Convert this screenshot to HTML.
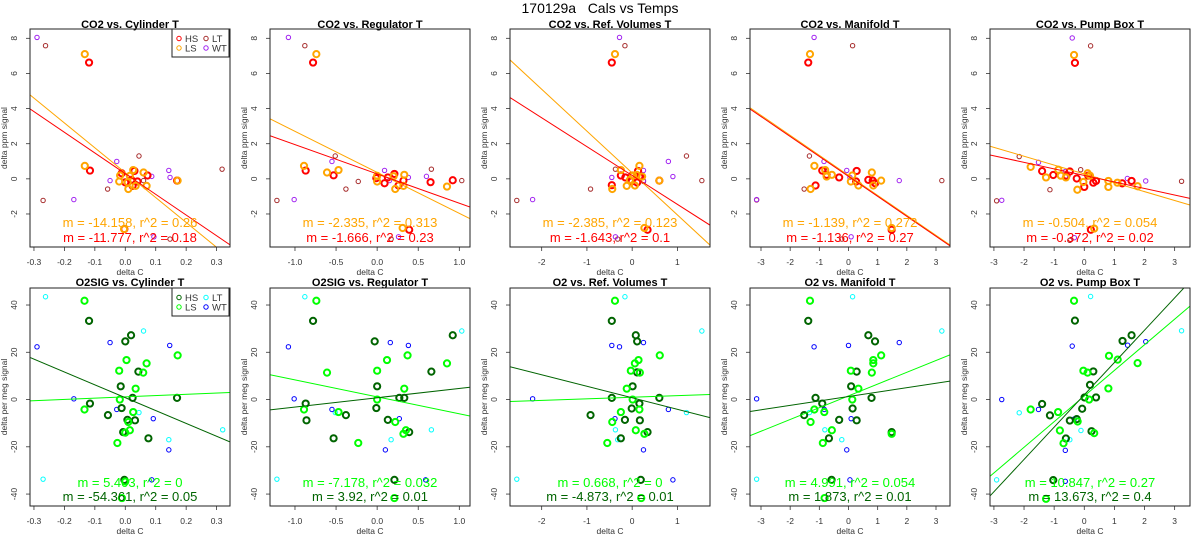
<!DOCTYPE html>
<html><head><meta charset="utf-8"><style>
html,body{margin:0;padding:0;background:#fff;}
svg{display:block;font-family:"Liberation Sans",Arial,sans-serif;}
</style></head><body>
<svg id="chart" width="1200" height="550" viewBox="0 0 1200 550" xmlns="http://www.w3.org/2000/svg">
<rect width="1200" height="550" fill="#fff"/>
<text x="600" y="13" text-anchor="middle" font-size="14" fill="#000" style="white-space:pre" xml:space="preserve">170129a   Cals vs Temps</text>
</svg>
<script>
// ---------- data ----------
const groups = ["HS","LS","LT","WT"];
const co2Colors = ["#ff0000","#ffa500","#a52a2a","#a020f0"];
const o2Colors = ["#006400","#00ff00","#00ffff","#0000ff"];
const titles = ["CO2 vs. Cylinder T","CO2 vs. Regulator T","CO2 vs. Ref. Volumes T","CO2 vs. Manifold T","CO2 vs. Pump Box T",
 "O2SIG vs. Cylinder T","O2SIG vs. Regulator T","O2 vs. Ref. Volumes T","O2 vs. Manifold T","O2 vs. Pump Box T"];
const xTicks1 = [-0.3,-0.2,-0.1,0,0.1,0.2,0.3];
const xTickLabels1 = ["-0.3","-0.2","-0.1","0.0","0.1","0.2","0.3"];
const xTicks2 = [-1,-0.5,0,0.5,1];
const xTickLabels2 = ["-1.0","-0.5","0.0","0.5","1.0"];
const xTicks3 = [-2,-1,0,1];
const xTickLabels3 = ["-2","-1","0","1"];
const xTicks4 = [-3,-2,-1,0,1,2,3];
const xTickLabels4 = ["-3","-2","-1","0","1","2","3"];
const yTicksCO2 = [-2,0,2,4,6,8];
const yTicksO2 = [-40,-20,0,20,40];
const xLims = [[-0.313,0.344],[-1.304,1.13],[-2.70,1.72],[-3.377,3.48],[-3.13,3.51]];
const yLimCO2 = [-3.88,8.53];
const yLimO2 = [-45.05,47.2];
// fit slopes / intercepts [LS, HS] per panel
const slopesLS = [-14.158,-2.335,-2.385,-1.139,-0.504, 5.403,-7.178,0.668,4.991,10.847];
const interceptsLS = [0.35,0.37,0.33,0.20,0.28, 1.13,1.14,0.96,1.55,1.48];
const r2LS = ["0.26","0.313","0.123","0.272","0.054","0","0.032","0","0.054","0.27"];
const slopesHS = [-11.777,-1.666,-1.643,-1.136,-0.372, -54.361,3.92,-4.873,1.873,13.673];
const interceptsHS = [0.295,0.28,0.19,0.14,0.195, 0.78,0.76,0.74,1.27,2.0];
const r2HS = ["0.18","0.23","0.1","0.27","0.02","0.05","0.01","0.01","0.01","0.4"];

// CO2 panels points
const p1HS=[[-0.119,6.62],[-0.116,0.47],[0,-0.2],[0.02,-0.06],[0.03,0.45],[0.04,-0.15],[0.073,0.19],[0.024,-0.4],[0.17,-0.1],[-0.003,-2.86],[-0.012,0.32]];
const p1LS=[[-0.133,7.1],[-0.133,0.74],[-0.017,0.19],[-0.02,-0.15],[0.008,-0.2],[0.01,-0.58],[0.015,0.17],[0.026,0.5],[0.034,-0.4],[0.06,0.36],[0.07,-0.4],[0.172,-0.1],[-0.004,-2.86]];
const p1LT=[[-0.262,7.58],[0.045,1.3],[-0.27,-1.23],[-0.058,-0.58],[0.06,-0.1],[0.318,0.55],[0.147,-3.43]];
const p1WT=[[-0.29,8.05],[-0.028,0.99],[-0.05,-0.1],[-0.169,-1.18],[0.087,0.14],[0.143,0.48],[0.147,0.08],[0.094,-3.3]];
const p2HS=[[-0.78,6.62],[-0.87,0.47],[-0.53,0.2],[-0.01,0.04],[0.13,0.08],[0.21,0.28],[0.26,-0.38],[0.32,-0.1],[0.65,-0.19],[0.92,-0.08],[0.39,-2.9],[0.09,-0.25]];
const p2LS=[[-0.74,7.1],[-0.89,0.74],[-0.61,0.36],[-0.47,0.5],[0,0.17],[0,-0.15],[0.22,-0.58],[0.33,0.23],[0.32,-0.4],[0.85,-0.44],[0.31,-2.8],[0.2,0.15]];
const p2LT=[[-0.88,7.58],[-0.51,1.3],[-1.22,-1.23],[-0.38,-0.58],[-0.23,-0.15],[0.66,0.55],[1.03,-0.1],[0.17,-3.43]];
const p2WT=[[-1.08,8.05],[-0.55,0.99],[0.09,0.48],[0.15,-0.1],[0.38,0.08],[0.6,0.14],[-1.01,-1.18],[0.26,-3.3]];
const p3HS=[[-0.45,6.62],[-0.45,-0.36],[-0.25,0.19],[-0.15,0.08],[0,0.19],[0.13,0.45],[0.16,0.13],[0.11,-0.21],[0.2,0.13],[0.34,-2.9],[0.6,-0.1],[-0.01,-0.15]];
const p3LS=[[-0.38,7.1],[-0.44,-0.58],[-0.25,0.5],[-0.12,-0.4],[0.02,0.19],[0.06,-0.38],[0.16,0.74],[0.22,0.13],[0.1,0.23],[0.6,-0.1],[0.27,-2.8],[-0.05,-0.06]];
const p3LT=[[-0.16,7.58],[1.2,1.3],[-2.55,-1.23],[-0.92,-0.58],[-0.37,0.55],[1.54,-0.1],[-0.32,-3.43],[0.25,-0.15]];
const p3WT=[[-0.28,8.05],[0.8,0.99],[0.9,0.13],[0.25,0.48],[-0.45,0.08],[0.25,-0.1],[-2.2,-1.18],[-0.37,-3.3]];
const p4HS=[[-1.38,6.62],[-1.13,-0.38],[-0.9,0.47],[-0.32,0.08],[0.28,0.45],[0.26,-0.15],[0.68,-0.06],[0.91,-0.25],[0.83,-0.1],[1.48,-2.9],[-0.75,0.23]];
const p4LS=[[-1.32,7.1],[-1.17,0.74],[-1.3,-0.58],[-0.75,0.13],[-0.57,0.23],[-0.8,0.5],[0.08,-0.15],[0.13,0.19],[0.34,-0.38],[0.8,0.36],[0.85,-0.38],[1.12,-0.1],[1.48,-2.8]];
const p4LT=[[0.14,7.58],[-1.34,1.3],[-3.15,-1.2],[-1.52,-0.58],[-0.83,0.55],[3.2,-0.1],[-0.23,-3.43]];
const p4WT=[[-1.18,8.05],[-0.84,0.99],[-0.06,0.48],[0.05,0.08],[1.74,-0.1],[-3.15,-1.18],[0.09,-3.3]];
const p5HS=[[-0.31,6.6],[-1.4,0.44],[-1.03,0.22],[-0.59,0.18],[-0.48,0.42],[-0.25,0.02],[0,-0.46],[0.13,0.18],[0.3,-0.22],[0.39,-0.12],[1.26,-0.26],[1.57,-0.12],[0.22,-2.9]];
const p5LS=[[-0.34,7.05],[-1.78,0.68],[-1.27,0.08],[-0.86,0.52],[-0.78,0.18],[-0.61,0.08],[-0.23,-0.62],[-0.03,-0.18],[0.11,0.32],[0.19,0.18],[0.8,-0.12],[0.8,-0.46],[1.1,-0.22],[1.77,-0.42],[0.33,-2.83]];
const p5LT=[[0.21,7.57],[-2.16,1.27],[-2.91,-1.25],[-1.14,-0.62],[-0.12,0.52],[3.23,-0.14],[-0.48,-3.5]];
const p5WT=[[-0.4,8.02],[-1.52,0.94],[-0.63,0.42],[-0.63,0.12],[1.43,0.02],[2.04,-0.12],[-2.74,-1.22],[-0.33,-3.35]];
// O2 panels points
const p6HS=[[-0.119,33.3],[-0.116,-1.7],[-0.015,5.6],[-0.012,-3.6],[0,24.6],[0.019,27.2],[0.024,0.7],[0.032,-8.8],[0.007,-8.6],[-0.007,-13.8],[0.043,11.8],[0.076,-16.4],[0.17,0.7],[-0.003,-34],[-0.057,-6.6]];
const p6LS=[[-0.134,41.8],[-0.134,-4.2],[-0.02,12.2],[-0.018,0],[0.004,16.7],[0.01,-9.5],[0.015,-13],[0.026,-5.3],[0.034,4.6],[0.059,11.4],[0.07,15.3],[0.172,18.7],[0,-14],[-0.011,-41.7],[0,-34.7],[-0.026,-18.4]];
const p6LT=[[-0.262,43.5],[0.06,29],[-0.27,-33.7],[0.32,-12.8],[0.045,-5.5],[0.143,-17]];
const p6WT=[[-0.29,22.3],[-0.05,24.1],[-0.169,0.3],[-0.028,-4.2],[0.092,-8.1],[0.146,22.9],[0.143,-21.3],[0.087,-34]];
const p7HS=[[-0.78,33.3],[-0.87,-1.7],[-0.86,-8.8],[-0.53,-16.4],[-0.03,24.6],[0,5.6],[-0.01,-3.6],[0.13,-8.6],[0.27,0.7],[0.33,0.7],[0.39,-13.8],[0.66,11.8],[0.92,27.2],[0.21,-34],[-0.38,-6.6]];
const p7LS=[[-0.74,41.8],[-0.89,-4.2],[-0.61,11.4],[-0.47,-5.3],[0,12.2],[0,0],[0.12,16.7],[0.22,-9.5],[0.32,-14.5],[0.33,4.6],[0.37,18.7],[0.35,-13],[0.85,15.3],[0.21,-41.7],[-0.23,-18.4]];
const p7LT=[[-0.88,43.5],[1.03,29],[-1.22,-33.7],[-0.51,-5.5],[0.17,-17],[0.66,-12.8]];
const p7WT=[[-1.08,22.3],[0.16,24.1],[0.38,22.9],[-1.01,0.3],[-0.55,-4.2],[0.27,-8.1],[0.1,-21.3],[0.59,-34]];
const p8HS=[[-0.45,33.3],[-0.45,0.7],[-0.16,-8.6],[-0.25,-16.4],[-0.01,-3.8],[0.01,5.6],[0.08,27.2],[0.11,24.6],[0.11,11.5],[0.16,-1.7],[0.17,-8.8],[0.34,-13.8],[0.6,0.7],[0.19,-34],[-0.92,-6.6]];
const p8LS=[[-0.38,41.8],[-0.44,-9.5],[-0.25,-5.3],[-0.12,4.6],[-0.03,12.2],[0.01,0],[0.06,15.3],[0.14,16.7],[0.17,11.4],[0.16,-4.2],[0.08,-13],[0.27,-14.5],[0.61,18.7],[0.2,-41.7],[-0.55,-18.4]];
const p8LT=[[-0.16,43.5],[1.54,29],[-2.55,-33.7],[-0.37,-12.8],[1.2,-5.5],[-0.32,-17]];
const p8WT=[[-0.45,22.9],[-0.28,22.3],[0.25,24.1],[-2.2,0.3],[-0.38,-8.1],[0.8,-4.2],[0.25,-21.3],[0.9,-34]];
const p9HS=[[-1.38,33.3],[-1.13,0.7],[-0.9,-1.7],[-0.67,-16.4],[-0.58,-34],[-0.32,-8.6],[0.09,5.6],[0.14,-3.8],[0.28,11.8],[0.28,-8.8],[0.68,27.2],[0.79,0.7],[0.91,24.6],[1.48,-13.8],[-1.52,-6.6]];
const p9LS=[[-1.32,41.8],[-1.17,-4.2],[-1.3,-9.5],[-0.83,-5.3],[-0.57,-13],[-0.82,-41.7],[0.08,12.2],[0.13,0],[0.34,4.6],[0.8,11.4],[0.85,16.7],[0.85,15.3],[1.12,18.7],[1.48,-14.5],[-0.88,-18.4]];
const p9LT=[[0.14,43.5],[3.2,29],[-3.15,-33.7],[-1.34,-5.5],[-0.81,-12.8],[-0.23,-17]];
const p9WT=[[-1.18,22.3],[0,22.9],[1.74,24.1],[-3.15,0.3],[-0.83,-4.2],[0.09,-8.1],[-0.06,-21.3],[0.05,-34]];
const p10HS=[[-0.31,33.4],[-1.4,-1.9],[-1.03,-34.1],[-0.48,-8.9],[-0.61,-16.5],[-0.25,-8.3],[-0.07,-3.9],[0.01,0.9],[0.19,6.2],[0.3,11.9],[0.24,-13.4],[0.39,0.9],[1.27,24.8],[1.57,27.2],[-1.14,-6.7]];
const p10LS=[[-0.34,41.8],[-1.78,-4.2],[-0.87,-5.3],[-0.81,-13.1],[-0.22,-9.3],[-0.03,12.2],[0.11,11.4],[0.16,0],[0.33,-14.2],[0.8,4.7],[0.82,18.5],[1.11,16.9],[1.77,15.4],[-1.27,-42],[-0.69,-18.5]];
const p10LT=[[0.21,43.6],[3.23,29.1],[-2.91,-34],[-2.16,-5.6],[-0.11,-13.1],[-0.48,-17]];
const p10WT=[[-0.4,22.6],[1.44,23],[2.04,24.5],[-2.74,0],[-1.52,-4.2],[-0.33,-8.2],[-0.63,-21.5],[-0.63,-34.6]];

const pointSets = [[p1HS,p1LS,p1LT,p1WT],[p2HS,p2LS,p2LT,p2WT],[p3HS,p3LS,p3LT,p3WT],[p4HS,p4LS,p4LT,p4WT],[p5HS,p5LS,p5LT,p5WT],
 [p6HS,p6LS,p6LT,p6WT],[p7HS,p7LS,p7LT,p7WT],[p8HS,p8LS,p8LT,p8WT],[p9HS,p9LS,p9LT,p9WT],[p10HS,p10LS,p10LT,p10WT]];
const xTickSets=[xTicks1,xTicks2,xTicks3,xTicks4,xTicks4];
const xTickLabelSets=[xTickLabels1,xTickLabels2,xTickLabels3,xTickLabels4,xTickLabels4];

// ---------- drawing ----------
const NS="http://www.w3.org/2000/svg";
const svg=document.getElementById('chart');
function mk(tag,attrs,parent){const e=document.createElementNS(NS,tag);for(const k in attrs)e.setAttribute(k,attrs[k]);(parent||svg).appendChild(e);return e;}
const defs=mk('defs',{});

for(let p=0;p<10;p++){
  const col=p%5, row=Math.floor(p/5);
  const ox=col*240;
  const bx0=ox+30,bx1=ox+230;
  const by0=row?288:29, by1=row?506:247;
  const xl=xLims[col], yl=row?yLimO2:yLimCO2;
  const sx=v=>bx0+(v-xl[0])/(xl[1]-xl[0])*(bx1-bx0);
  const sy=v=>by1-(v-yl[0])/(yl[1]-yl[0])*(by1-by0);
  const colors=row?o2Colors:co2Colors;
  const g=mk('g',{});
  
  
  const cp=mk('clipPath',{id:'cp'+p},defs);
  mk('rect',{x:bx0,y:by0,width:bx1-bx0,height:by1-by0},cp);
  const t=mk('text',{x:ox+130,y:row?286:28,'text-anchor':'middle','font-size':'11','font-weight':'bold',fill:'#000'},g);
  t.textContent=titles[p];
  
  
  const xt=xTickSets[col], xtl=xTickLabelSets[col];
  const xa=mk('g',{},g);
  
  
  mk('line',{x1:sx(xt[0]),x2:sx(xt[xt.length-1]),y1:by1,y2:by1,stroke:'#333','stroke-width':0.8},xa);
  xt.forEach((v,i)=>{
    mk('line',{x1:sx(v),x2:sx(v),y1:by1,y2:by1+4,stroke:'#333','stroke-width':0.8},xa);
    const l=mk('text',{x:sx(v),y:by1+18,'text-anchor':'middle','font-size':'8.5',fill:'#333'},xa);
    l.textContent=xtl[i];
  });
  const xlab=mk('text',{x:ox+130,y:by1+28,'text-anchor':'middle','font-size':'8.5',fill:'#333'},g);
  xlab.textContent='delta C';
  
  
  const yt=row?yTicksO2:yTicksCO2;
  const ya=mk('g',{},g);
  
  
  mk('line',{x1:bx0,x2:bx0,y1:sy(yt[0]),y2:sy(yt[yt.length-1]),stroke:'#333','stroke-width':0.8},ya);
  yt.forEach(v=>{
    mk('line',{x1:bx0-4,x2:bx0,y1:sy(v),y2:sy(v),stroke:'#333','stroke-width':0.8},ya);
    const l=mk('text',{x:ox+17,y:sy(v),'text-anchor':'middle','font-size':'8.5',fill:'#333',transform:`rotate(-90 ${ox+17} ${sy(v)})`},ya);
    l.textContent=String(v);
  });
  const ylab=mk('text',{x:ox+7,y:(by0+by1)/2,'text-anchor':'middle','font-size':'8.5',fill:'#333',transform:`rotate(-90 ${ox+7} ${(by0+by1)/2})`},g);
  ylab.textContent=row?'delta per meg signal':'delta ppm signal';
  
  
  const pts=mk('g',{'clip-path':'url(#cp'+p+')'},g);
  [2,3,0,1].forEach(gi=>{
    const thick=gi<2;
    pointSets[p][gi].forEach(d=>{
      const c=mk('circle',{cx:sx(d[0]),cy:sy(d[1]),r:thick?3.1:2.2,fill:'none',stroke:colors[gi],'stroke-width':thick?2:1},pts);
      
      
    });
  });
  [[slopesLS,interceptsLS,1],[slopesHS,interceptsHS,0]].forEach(([s,b,gi])=>{
    const y0=s[p]*xl[0]+b[p], y1=s[p]*xl[1]+b[p];
    const ln=mk('line',{x1:sx(xl[0]),y1:sy(y0),x2:sx(xl[1]),y2:sy(y1),stroke:colors[gi],'stroke-width':1},pts);
    
    
  });
  mk('rect',{x:bx0,y:by0,width:bx1-bx0,height:by1-by0,fill:'none',stroke:'#222','stroke-width':1},g);
  const a1=mk('text',{x:ox+130,y:row?487:227,'text-anchor':'middle','font-size':'13',fill:colors[1]},g);
  a1.textContent=`m = ${slopesLS[p]}, r^2 = ${r2LS[p]}`;
  
  
  const a2=mk('text',{x:ox+130,y:row?501:242,'text-anchor':'middle','font-size':'13',fill:colors[0]},g);
  a2.textContent=`m = ${slopesHS[p]}, r^2 = ${r2HS[p]}`;
  
  
  if(col===0){
    const lg=mk('g',{},g);
    
    
    const ly0=by0;
    mk('rect',{x:ox+172,y:ly0,width:57,height:28,fill:'#fff',stroke:'#222','stroke-width':1},lg);
    groups.forEach((nm,gi)=>{
      const cx=ox+(gi<2?179:206), cy=ly0+(gi%2===0?9.5:19);
      const e=mk('g',{},lg);
      
      
      mk('circle',{cx:cx,cy:cy,r:2.2,fill:'none',stroke:colors[gi],'stroke-width':1},e);
      const tx=mk('text',{x:cx+6,y:cy+3.5,'font-size':'9.5',fill:'#333'},e);
      tx.textContent=nm;
    });
  }
}
</script>
</body></html>
